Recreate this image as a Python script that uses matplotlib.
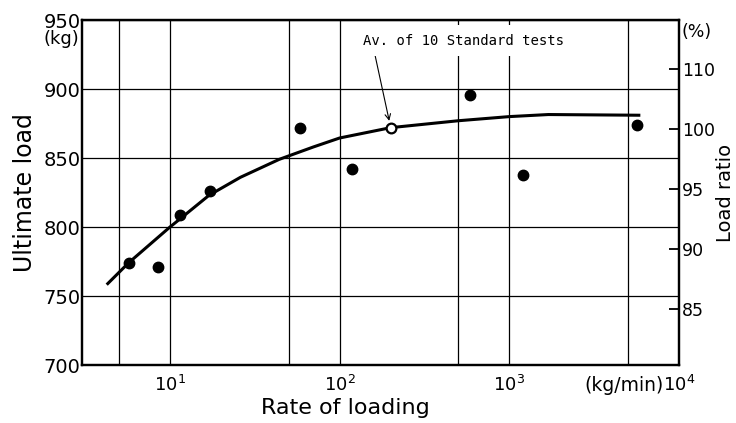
import numpy as np
import matplotlib
matplotlib.use("Agg")
import matplotlib.pyplot as plt

# measured points (rate kg/min, ultimate load kg)
RATE = [5.7, 8.5, 11.5, 17.2, 58.5, 119, 583, 1210, 5690]
LOAD = [774, 771, 809, 826, 871.5, 842, 896, 838, 874]

# average of the 10 standard tests
STD_RATE = 200
STD_LOAD = 872
RATIO_BASE = 871          # kg that corresponds to 100 % on the right axis

# hand-drawn trend curve
CURVE_RATE = [4.3, 5.7, 10, 11.5, 17, 26, 44, 70, 100, 200, 500, 1000, 1700, 5800]
CURVE_LOAD = [759, 774, 800, 806, 823, 836, 849, 858, 864.5, 872, 877, 880, 881.5, 881]

LOAD_TICKS = [700, 750, 800, 850, 900, 950]
XTICKS = [10, 100, 1000, 10000]
XTICK_LABELS = ["$10^1$", "$10^2$", "$10^3$", "$10^4$"]
XMINOR = [5, 50, 500, 5000]
RATIO_TICKS = [85, 90, 95, 100, 105]
RATIO_LABELS = ["85", "90", "95", "100", "110"]   # as printed on the original

fig = plt.figure(figsize=(7.36, 4.23), dpi=100)
ax = fig.add_axes([0.1114, 0.1371, 0.8111, 0.8156])

ax.set_xscale("log")
ax.set_xlim(3.03, 1e4)
ax.set_ylim(700, 950)
ax.set_xticks(XTICKS)
ax.set_xticklabels(XTICK_LABELS)
ax.set_xticks(XMINOR, minor=True)
ax.set_xticklabels([], minor=True)
ax.set_yticks(LOAD_TICKS)

ax.grid(True, which="both", color="black", lw=0.9)
ax.set_axisbelow(True)
for s in ax.spines.values():
    s.set_linewidth(1.6)
ax.tick_params(axis="both", which="both", length=0)
ax.tick_params(axis="y", labelsize=14, pad=1)
ax.tick_params(axis="x", labelsize=13, pad=7)

ax.plot(CURVE_RATE, CURVE_LOAD, color="black", lw=2.2, zorder=3)
ax.plot(RATE, LOAD, "o", color="black", ms=7.5, zorder=4)
ax.plot([STD_RATE], [STD_LOAD], "o", mfc="white", mec="black", mew=1.6, ms=7, zorder=5)

ax.annotate("Av. of 10 Standard tests", xy=(STD_RATE, STD_LOAD), xytext=(138, 935),
            textcoords="data", family="DejaVu Sans Mono", fontsize=10,
            ha="left", va="center", zorder=6,
            bbox=dict(boxstyle="square,pad=0.6", fc="white", ec="none"),
            arrowprops=dict(arrowstyle="->", color="black", lw=0.8,
                            relpos=(0.05, 0.0), shrinkA=0, shrinkB=5))

ax.set_xlabel("Rate of loading", fontsize=16)
ax.xaxis.set_label_coords(0.442, -0.095)
ax.set_ylabel("Ultimate load", fontsize=17, labelpad=5)
ax.text(-0.005, 0.944, "(kg)", transform=ax.transAxes, ha="right", va="center", fontsize=13)
ax.annotate("(kg/min)", xy=(1.0, 0.0), xycoords="axes fraction", xytext=(-11, -14.5),
            textcoords="offset points", ha="right", va="center", fontsize=13.5)

ax2 = ax.twinx()
ax2.set_ylim(700 / RATIO_BASE * 100, 950 / RATIO_BASE * 100)
ax2.set_yticks(RATIO_TICKS)
ax2.set_yticklabels(RATIO_LABELS)
ax2.tick_params(axis="y", direction="in", length=7, width=1.3, labelsize=12.5, pad=2)
for s in ax2.spines.values():
    s.set_linewidth(1.6)
ax2.set_ylabel("Load ratio", fontsize=14, labelpad=1)
ax2.text(1.005, 0.965, "(%)", transform=ax2.transAxes, ha="left", va="center", fontsize=12.5)

fig.savefig("out.png", dpi=100)
